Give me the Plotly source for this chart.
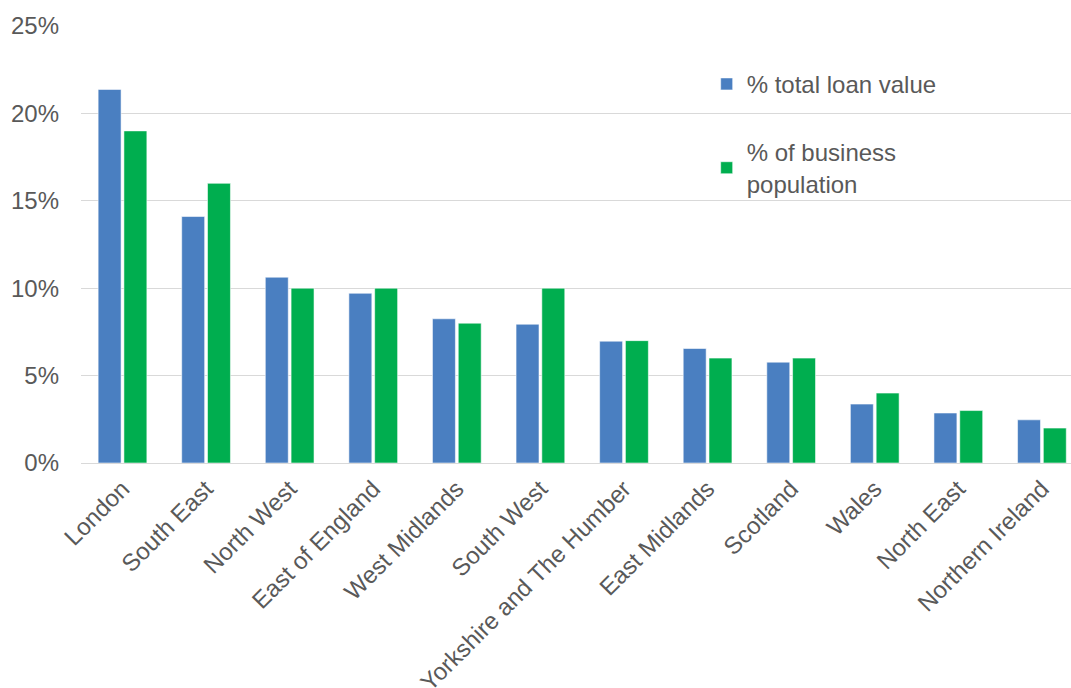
import plotly.graph_objects as go

regions = ["London", "South East", "North West", "East of England", "West Midlands",
           "South West", "Yorkshire and The Humber", "East Midlands", "Scotland",
           "Wales", "North East", "Northern Ireland"]
loan_value = [21.37, 14.1, 10.63, 9.71, 8.25, 7.94, 6.97, 6.55, 5.77, 3.37, 2.86, 2.47]
business_pop = [19.0, 16.0, 10.0, 10.0, 8.0, 10.0, 7.0, 6.0, 6.0, 4.0, 3.0, 2.0]
loan_value = [v / 100 for v in loan_value]
business_pop = [v / 100 for v in business_pop]

FONT = "Liberation Sans, Arial, sans-serif"
TXT = "#595959"

fig = go.Figure()
fig.add_trace(go.Bar(x=regions, y=loan_value, name="% total loan value",
                     marker=dict(color="#4A7FC1", line=dict(color="rgba(255,255,255,0.55)", width=1)),
                     legendgroup="a"))
fig.add_trace(go.Bar(x=regions, y=business_pop, name="% of business<br>population",
                     marker=dict(color="#00AE4F", line=dict(color="rgba(255,255,255,0.55)", width=1)),
                     legendgroup="b"))

fig.update_layout(
    width=1071, height=688,
    margin=dict(l=81, r=0, t=26, b=225, autoexpand=False),
    paper_bgcolor="white", plot_bgcolor="white",
    font=dict(family=FONT, size=24, color=TXT),
    barmode="group", bargap=0.383, bargroupgap=0.11,
    showlegend=True,
    legend=dict(x=0.632, y=0.918, xanchor="left", yanchor="top",
                bgcolor="rgba(0,0,0,0)", tracegroupgap=34,
                font=dict(family=FONT, size=24, color=TXT),
                itemwidth=30),
    xaxis=dict(range=[-0.4965, 11.348], tickangle=-45, showgrid=False, showline=False,
               ticks="", ticklabelstandoff=6, tickfont=dict(size=24, color=TXT)),
    yaxis=dict(range=[0, 0.25], dtick=0.05, tickformat=".0%", showgrid=True,
               gridcolor="#D9D9D9", gridwidth=1, zeroline=True, zerolinecolor="#D9D9D9",
               zerolinewidth=1, showline=False, ticks="", ticklabelstandoff=21,
               tickfont=dict(size=24, color=TXT)),
)

fig.write_html("out.html")
